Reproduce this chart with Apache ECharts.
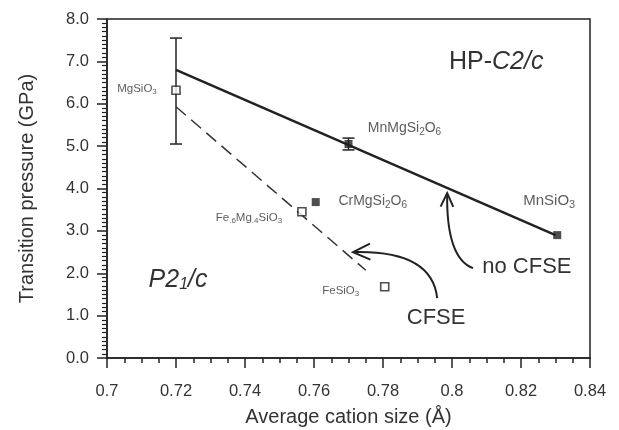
<!DOCTYPE html>
<html>
<head>
<meta charset="utf-8">
<script src="https://cdn.jsdelivr.net/npm/echarts@6/dist/echarts.min.js"></script>
<style>
  html, body { margin: 0; background: #fff; }
  #main { width: 619px; height: 430px; }
</style>
</head>
<body>
<div id="main"></div>
<script>
// open squares (P21/c measurements)
const openNames = ['MgSiO3', 'Fe.6Mg.4SiO3', 'FeSiO3'];
const openSize = [0.72, 0.7565, 0.7805];
const openPressure = [6.32, 3.45, 1.68];

// filled squares
const filledNames = ['MnMgSi2O6', 'CrMgSi2O6', 'MnSiO3'];
const filledSize = [0.77, 0.7605, 0.8305];
const filledPressure = [5.05, 3.68, 2.90];

// error bars
const errSize = [0.72, 0.77];
const errLow = [5.05, 4.91];
const errHigh = [7.55, 5.19];

// trend lines
const noCfseSize = [0.72, 0.83];
const noCfsePressure = [6.80, 2.90];
const cfseSize = [0.72, 0.775];
const cfsePressure = [5.93, 2.07];

const font = '"Liberation Sans", Arial, Helvetica, sans-serif';
const ink = '#222';

// label look per compound (offset from point centre, px)
const labelStyle = {
  'MgSiO3': { fontSize: 11.5, offset: [-39, -1] },
  'Fe.6Mg.4SiO3': { fontSize: 11.5, offset: [-53, 6] },
  'FeSiO3': { fontSize: 11.5, offset: [-44, 4] },
  'MnMgSi2O6': { fontSize: 14, offset: [56, -16] },
  'CrMgSi2O6': { fontSize: 14, offset: [57, -1] },
  'MnSiO3': { fontSize: 15, offset: [-8, -34] }
};

function richName(name) {
  return name.replace(/(\.?\d)/g, '{s|$1}');
}

function pointData(names, xs, ys) {
  return names.map((n, i) => {
    const st = labelStyle[n];
    return {
      name: n,
      value: [xs[i], ys[i]],
      label: {
        show: true,
        position: 'inside',
        offset: st.offset,
        fontSize: st.fontSize,
        fontFamily: font,
        color: '#333',
        formatter: richName(n),
        rich: {
          s: { fontSize: Math.round(st.fontSize * 0.7), fontFamily: font, color: '#333', padding: [Math.round(st.fontSize * 0.55), 0, 0, 0] }
        }
      }
    };
  });
}

function renderErrorBar(params, api) {
  const x = api.value(0);
  const lo = api.coord([x, api.value(1)]);
  const hi = api.coord([x, api.value(2)]);
  const w = 6;
  const style = { stroke: ink, lineWidth: 1.5 };
  return {
    type: 'group',
    children: [
      { type: 'line', shape: { x1: lo[0], y1: lo[1], x2: hi[0], y2: hi[1] }, style },
      { type: 'line', shape: { x1: lo[0] - w, y1: lo[1], x2: lo[0] + w, y2: lo[1] }, style },
      { type: 'line', shape: { x1: hi[0] - w, y1: hi[1], x2: hi[0] + w, y2: hi[1] }, style }
    ]
  };
}

const chart = echarts.init(document.getElementById('main'));

chart.setOption({
  backgroundColor: '#fff',
  animation: false,
  grid: {
    left: 107, right: 29, top: 19, bottom: 72,
    outerBoundsMode: 'none', containLabel: false,
    show: true, borderColor: ink, borderWidth: 1.5
  },
  xAxis: {
    type: 'value',
    min: 0.7, max: 0.84, interval: 0.02,
    name: 'Average cation size (Å)',
    nameLocation: 'middle', nameGap: 49,
    nameTextStyle: { fontSize: 20, fontFamily: font, color: '#333' },
    axisLine: { lineStyle: { color: ink, width: 1.5 } },
    axisTick: { length: 10, lineStyle: { color: ink, width: 1.5 } },
    minorTick: { show: true, splitNumber: 4, length: 5, lineStyle: { color: ink, width: 1.5 } },
    splitLine: { show: false },
    axisLabel: {
      margin: 25, fontSize: 16.5, fontFamily: font, color: '#333',
      formatter: v => String(parseFloat(v.toFixed(2)))
    }
  },
  yAxis: {
    type: 'value',
    min: 0, max: 8, interval: 1,
    name: 'Transition pressure (GPa)',
    nameLocation: 'middle', nameGap: 70,
    nameTextStyle: { fontSize: 20, fontFamily: font, color: '#333' },
    axisLine: { lineStyle: { color: ink, width: 1.5 } },
    axisTick: { length: 10, lineStyle: { color: ink, width: 1.5 } },
    minorTick: { show: true, splitNumber: 10, length: 5, lineStyle: { color: ink, width: 1.2 } },
    splitLine: { show: false },
    axisLabel: {
      margin: 18, fontSize: 16.5, fontFamily: font, color: '#333',
      formatter: v => v.toFixed(1)
    }
  },
  series: [
    {
      type: 'line',
      data: noCfseSize.map((x, i) => [x, noCfsePressure[i]]),
      symbol: 'none',
      lineStyle: { color: ink, width: 2.5 },
      z: 2
    },
    {
      type: 'line',
      data: cfseSize.map((x, i) => [x, cfsePressure[i]]),
      symbol: 'none',
      lineStyle: { color: '#333', width: 1.5, type: [13, 7] },
      z: 2
    },
    {
      type: 'custom',
      renderItem: renderErrorBar,
      data: errSize.map((x, i) => [x, errLow[i], errHigh[i]]),
      z: 3
    },
    {
      type: 'scatter',
      symbol: 'rect',
      symbolSize: 8,
      itemStyle: { color: '#fff', borderColor: ink, borderWidth: 1.6 },
      data: pointData(openNames, openSize, openPressure),
      z: 5
    },
    {
      type: 'scatter',
      symbol: 'rect',
      symbolSize: 8,
      itemStyle: { color: ink },
      data: pointData(filledNames, filledSize, filledPressure),
      z: 5
    }
  ]
});

// annotations, anchored in data space
const px = p => chart.convertToPixel({ gridIndex: 0 }, p);

function arrow(start, ctrl, tip, headLen) {
  const s = px(start), c = px(ctrl), t = px(tip);
  const ang = Math.atan2(t[1] - c[1], t[0] - c[0]);
  const a = 25 * Math.PI / 180;
  const w1 = [t[0] - headLen * Math.cos(ang - a), t[1] - headLen * Math.sin(ang - a)];
  const w2 = [t[0] - headLen * Math.cos(ang + a), t[1] - headLen * Math.sin(ang + a)];
  return [
    { type: 'bezierCurve', shape: { x1: s[0], y1: s[1], cpx1: c[0], cpy1: c[1], x2: t[0], y2: t[1] },
      style: { stroke: ink, lineWidth: 2, fill: null } },
    { type: 'polyline', shape: { points: [w1, t, w2] }, style: { stroke: ink, lineWidth: 2, fill: null } }
  ];
}

function label(text, at, size, rich) {
  const p = px(at);
  return {
    type: 'text', x: p[0], y: p[1],
    style: { text, fontSize: size, fontFamily: font, fill: '#333', align: 'center', verticalAlign: 'middle', rich }
  };
}

const italicRich = {
  i: { fontStyle: 'italic', fontSize: 25, fontFamily: font, color: '#333' },
  si: { fontStyle: 'italic', fontSize: 16, fontFamily: font, color: '#333', padding: [10, 0, 0, 0] }
};

chart.setOption({
  graphic: [
    label('HP-{i|C2/c}', [0.8128, 6.98], 25, italicRich),
    label('{i|P2}{si|1}{i|/c}', [0.7206, 1.84], 25, italicRich),
    label('no CFSE', [0.8217, 2.15], 22),
    label('CFSE', [0.7954, 0.94], 22),
    ...arrow([0.8061, 2.12], [0.7983, 2.36], [0.7986, 3.89], 15),
    ...arrow([0.7957, 1.415], [0.7942, 2.55], [0.7713, 2.50], 19)
  ]
});
</script>
</body>
</html>
